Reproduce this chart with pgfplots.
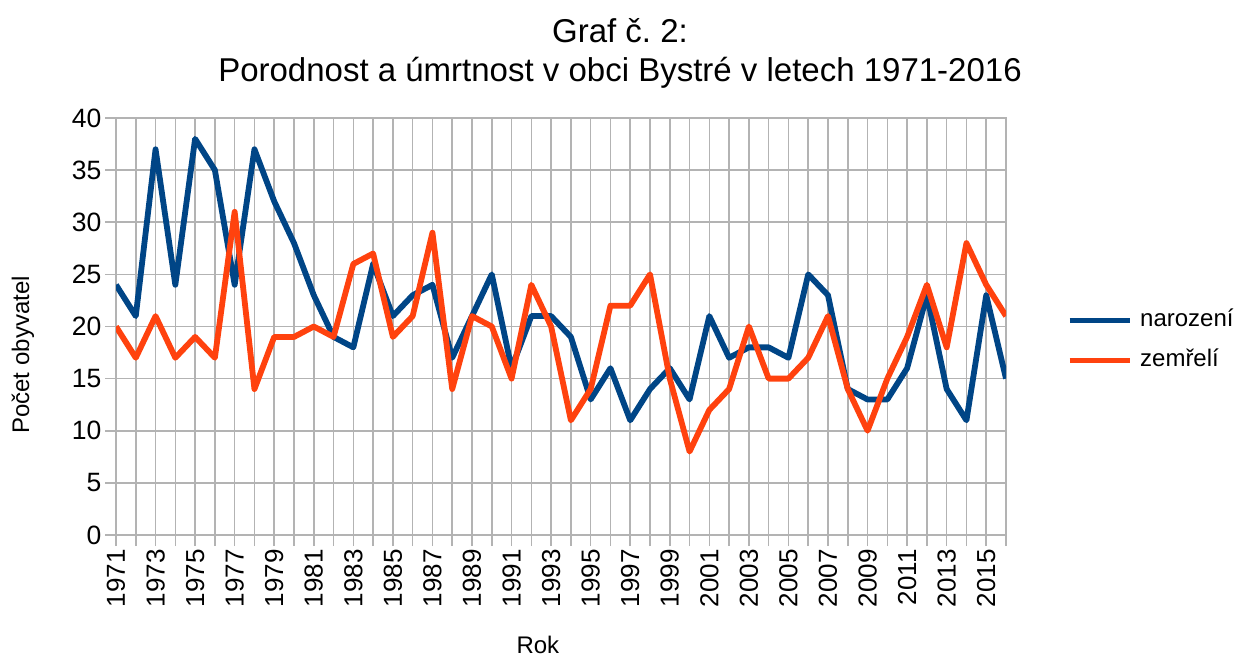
\documentclass[border=0pt]{standalone}
\usepackage{pgfplots}
\pgfplotsset{compat=1.18}
\usepackage{fontspec}
\setmainfont{Liberation Sans}
\frenchspacing
\definecolor{cblue}{HTML}{004586}
\definecolor{corange}{HTML}{FF420E}
\definecolor{cgrid}{HTML}{B3B3B3}
\begin{document}
\begin{tikzpicture}
\useasboundingbox (0pt,0pt) rectangle (1239pt,657pt);
\begin{axis}[
  at={(116pt,122pt)}, anchor=south west,
  scale only axis, width=890pt, height=417pt,
  xmin=1971, xmax=2016, ymin=0, ymax=40,
  xtick={1971,1973,...,2015},
  minor xtick={1972,1974,...,2016},
  ytick={0,5,...,40},
  grid=both,
  major grid style={cgrid, line width=1.6pt},
  minor grid style={cgrid, line width=1.6pt},
  axis line style={cgrid, line width=1.6pt},
  tick style={cgrid, line width=1.6pt},
  tick align=outside,
  major tick length=11pt, minor tick length=11pt,
  xtick pos=bottom, ytick pos=left,
  /pgf/number format/assume math mode=true,
  x tick label style={/pgf/number format/1000 sep={}, rotate=90, anchor=east, inner sep=3pt, font=\fontsize{26}{30}\selectfont},
  y tick label style={inner sep=3.5pt, font=\fontsize{26.5}{30}\selectfont},
  title={Graf č.\ 2:\\Porodnost a úmrtnost v obci Bystré v letech 1971-2016},
  title style={align=center, font=\fontsize{33}{39.5}\selectfont, inner sep=0pt, at={(axis description cs:0.5663,1.2254)}, anchor=north},
  xlabel={Rok},
  xlabel style={font=\fontsize{24}{29}\selectfont, at={(axis description cs:0.474,-0.2638)}, anchor=center},
  ylabel={Počet obyvatel},
  ylabel style={font=\fontsize{24}{29}\selectfont, at={(axis description cs:-0.1045,0.4317)}, anchor=center},
  legend style={at={(axis description cs:1.0685,0.4676)}, anchor=west, draw=none, fill=none,
    font=\fontsize{24}{29}\selectfont, inner sep=0pt,
    nodes={inner sep=0pt, text height=17pt, text depth=5pt},
    row sep=18pt,
    /tikz/every odd column/.append style={column sep=8pt}},
  legend cell align=left,
  legend image code/.code={\draw[line width=5pt] (0pt,0pt) -- (60pt,0pt);},
]
\addplot[cblue, line width=5.8pt, line join=round] coordinates {
(1971,24) (1972,21) (1973,37) (1974,24) (1975,38) (1976,35) (1977,24) (1978,37) (1979,32) (1980,28)
(1981,23) (1982,19) (1983,18) (1984,26) (1985,21) (1986,23) (1987,24) (1988,17) (1989,21) (1990,25)
(1991,16) (1992,21) (1993,21) (1994,19) (1995,13) (1996,16) (1997,11) (1998,14) (1999,16) (2000,13)
(2001,21) (2002,17) (2003,18) (2004,18) (2005,17) (2006,25) (2007,23) (2008,14) (2009,13) (2010,13)
(2011,16) (2012,23) (2013,14) (2014,11) (2015,23) (2016,15)
};
\addlegendentry{narození}
\addplot[corange, line width=5.8pt, line join=round] coordinates {
(1971,20) (1972,17) (1973,21) (1974,17) (1975,19) (1976,17) (1977,31) (1978,14) (1979,19) (1980,19)
(1981,20) (1982,19) (1983,26) (1984,27) (1985,19) (1986,21) (1987,29) (1988,14) (1989,21) (1990,20)
(1991,15) (1992,24) (1993,20) (1994,11) (1995,14) (1996,22) (1997,22) (1998,25) (1999,15) (2000,8)
(2001,12) (2002,14) (2003,20) (2004,15) (2005,15) (2006,17) (2007,21) (2008,14) (2009,10) (2010,15)
(2011,19) (2012,24) (2013,18) (2014,28) (2015,24) (2016,21)
};
\addlegendentry{zemřelí}
\end{axis}
\end{tikzpicture}
\end{document}
